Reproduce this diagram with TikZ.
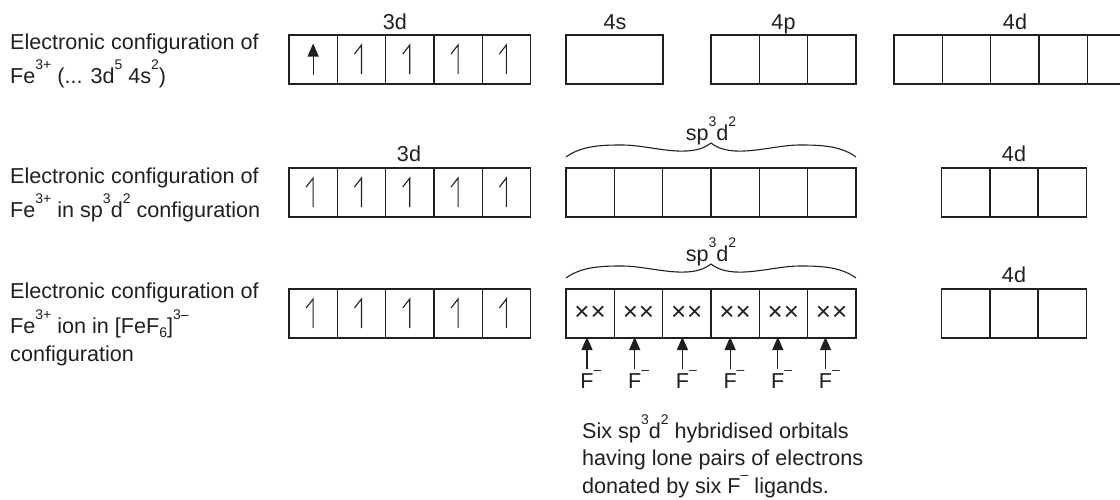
\documentclass[tikz,border=0pt]{standalone}
\usepackage{fontspec}
\setmainfont{Liberation Sans}
\usetikzlibrary{arrows.meta}
\definecolor{ink}{RGB}{35,31,32}
\newcommand{\sps}[1]{\smash{\raisebox{14pt}{\fontsize{14}{14}\selectfont #1}}}
\newcommand{\sbs}[1]{\smash{\raisebox{-4.5pt}{\fontsize{14}{14}\selectfont #1}}}
\begin{document}
\begin{tikzpicture}[x=1pt,y=-1pt,
  orb/.style={draw=ink,line width=1.4pt,minimum width=48.3pt,minimum height=49pt,inner sep=0pt,outer sep=0pt,anchor=north west},
  lab/.style={font=\fontsize{21.6}{25}\selectfont,text=ink,inner sep=0pt,anchor=base west},
  ttl/.style={font=\fontsize{21.6}{25}\selectfont,text=ink,inner sep=0pt,anchor=base},
  harp/.style={draw=ink,line width=1.1pt,line join=miter},
  farrow/.style={draw=ink,line width=1.2pt,-{Triangle[length=13pt,width=11pt]}},
  bracepath/.style={draw=ink,line width=1.1pt},
  xx/.style={font=\fontsize{26}{26}\selectfont,text=ink}]
\useasboundingbox (0,0) rectangle (1120,499);

% ---------- Row 1 ----------
\node[lab] (r1a) at (10,49) {Electronic configuration of};
\node[lab] (r1b) at (10,83) {Fe\sps{3+} (... 3d\sps{5} 4s\sps{2})};
\foreach \i in {1,...,5} \node[orb] (a\i) at ({289+48.3*(\i-1)},35) {};
\node[orb,minimum width=97pt] (s4) at (566,35) {};
\foreach \i in {1,2,3} \node[orb] (p\i) at ({711+48.3*(\i-1)},35) {};
\foreach \i in {1,...,5} \node[orb] (d\i) at ({894+48.3*(\i-1)},35) {};
\node[ttl] (l3d) at (395,29.5) {3d};
\node[ttl] (l4s) at (615,29.5) {4s};
\node[ttl] (l4p) at (783.5,29.5) {4p};
\node[ttl] (l4d) at (1015,29.5) {4d};
\draw[farrow] ([yshift=-15pt]a1.center) -- ([yshift=16pt]a1.center);
\foreach \i in {2,...,5}
  \draw[harp] ([yshift=-14.5pt]a\i.center) -- ([yshift=14.5pt]a\i.center) -- ++(-7pt,-9pt);

% ---------- Row 2 ----------
\node[lab] (r2a) at (10,183) {Electronic configuration of};
\node[lab] (r2b) at (10,217) {Fe\sps{3+} in sp\sps{3}d\sps{2} configuration};
\foreach \i in {1,...,5} {
  \node[orb] (b\i) at ({289+48.3*(\i-1)},168) {};
  \draw[harp] ([yshift=-14.5pt]b\i.center) -- ([yshift=14.5pt]b\i.center) -- ++(-7pt,-9pt);
}
\foreach \i in {1,...,6} \node[orb] (h\i) at ({566+48.3*(\i-1)},168) {};
\foreach \i in {1,2,3} \node[orb] (e\i) at ({941.5+48.3*(\i-1)},168) {};
\node[ttl] (m3d) at (409,161.5) {3d};
\node[ttl] (m4d) at (1014,161.5) {4d};
\node[ttl] (msp) at (711,140) {sp\sps{3}d\sps{2}};
\draw[bracepath] (566,157) .. controls (582,145) and (605,145) .. (623,145)
  .. controls (650,145) and (690,160) .. (711,143)
  .. controls (732,160) and (772,145) .. (799,145)
  .. controls (817,145) and (840,145) .. (856,157);

% ---------- Row 3 ----------
\node[lab] (r3a) at (10,298) {Electronic configuration of};
\node[lab] (r3b) at (10,333) {Fe\sps{3+} ion in [FeF\sbs{6}]\sps{3–}};
\node[lab] (r3c) at (10,361) {configuration};
\foreach \i in {1,...,5} {
  \node[orb] (c\i) at ({289+48.3*(\i-1)},289) {};
  \draw[harp] ([yshift=-14.5pt]c\i.center) -- ([yshift=14.5pt]c\i.center) -- ++(-7pt,-9pt);
}
\foreach \i in {1,...,6} \node[orb,xx] (k\i) at ({566+48.3*(\i-1)},289) {×\kern1pt×};
\foreach \i in {1,2,3} \node[orb] (g\i) at ({941.5+48.3*(\i-1)},289) {};
\node[ttl] (n4d) at (1014,282.5) {4d};
\node[ttl] (nsp) at (711,261) {sp\sps{3}d\sps{2}};
\draw[bracepath] (566,278) .. controls (582,266) and (605,266) .. (623,266)
  .. controls (650,266) and (690,281) .. (711,264)
  .. controls (732,281) and (772,266) .. (799,266)
  .. controls (817,266) and (840,266) .. (856,278);
\foreach \i in {1,...,6} {
  \node[ttl] (f\i) at ({587+47.7*(\i-1)},388) {F\rlap{\sps{–}}};
  \draw[farrow,shorten >=-1pt] ([yshift=4pt]f\i.north) -- (f\i.north |- k\i.south);
}

% ---------- Note ----------
\node[font=\fontsize{21.6}{27.5}\selectfont,text=ink,inner sep=0pt,align=left,anchor=north west] (note) at (582,422.5)
  {Six sp\sps{3}d\sps{2} hybridised orbitals\\having lone pairs of electrons\\donated by six F\sps{–} ligands.};
\end{tikzpicture}
\end{document}
